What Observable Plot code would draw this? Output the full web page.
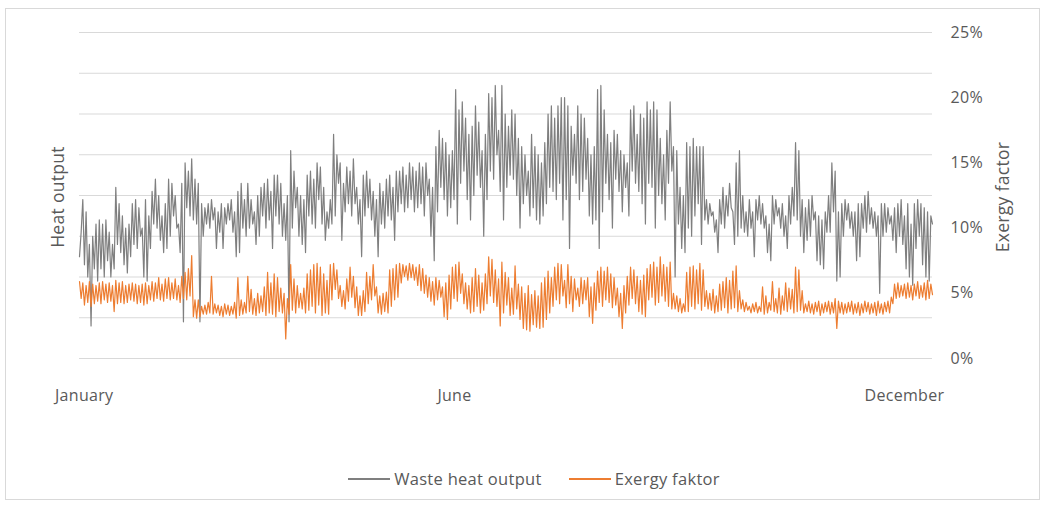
<!DOCTYPE html>
<html>
<head>
<meta charset="utf-8">
<script src="https://cdn.jsdelivr.net/npm/d3@7"></script>
<script src="https://cdn.jsdelivr.net/npm/@observablehq/plot@0.6"></script>
<style>
  html, body { margin: 0; padding: 0; background: #ffffff; }
  body { width: 1048px; height: 509px; position: relative; overflow: hidden;
         font-family: "Open Sans", Lato, sans-serif; color: #595959; }
  #frame { position: absolute; left: 5px; top: 8px; width: 1035px; height: 492px;
           border: 1px solid #d9d9d9; box-sizing: border-box; }
  #chart { position: absolute; left: 0; top: 0; }
  .ytitle { position: absolute; font-size: 17.5px; color: #595959; white-space: nowrap; letter-spacing: 0.3px;
            transform: translate(-50%, -50%) rotate(-90deg); }
  #legend { position: absolute; top: 467px; left: 10px; width: 1048px; display: flex;
            justify-content: center; gap: 27px; font-size: 16.5px; color: #595959; letter-spacing: 0.3px; }
  .item { display: flex; align-items: center; gap: 4px; }
  .swatch { width: 42px; height: 0; border-top: 2px solid; }
</style>
</head>
<body>
<div id="frame"></div>
<div id="chart"></div>
<div class="ytitle" style="left:57px; top:197px;">Heat output</div>
<div class="ytitle" style="left:1002px; top:197px;">Exergy factor</div>
<div id="legend"></div>
<script>
// Month labels on the time axis and their (approximate) day-of-year positions
const monthLabels = ["January", "June", "December"];
const monthDays = [2, 160, 352];

// Right axis ticks (exergy factor, %)
const exergyTicks = [0, 5, 10, 15, 20, 25];
// Left axis gridlines (heat output, unlabeled units)
const heatGrid = [0, 1, 2, 3, 4, 5, 6, 7, 8];
const heatMax = 8;

const seriesNames = ["Waste heat output", "Exergy faktor"];
const seriesColors = ["#7f7f7f", "#ed7d31"];

// Waste heat output (unlabeled units, gridline = 1), read as alternating daily extremes
const heatOutput = [
2.5,3.1, 3.9,2.3, 3.6,2.0, 2.8,0.8, 3.0,2.2, 3.3,1.9, 3.4,2.2, 3.3,2.0, 3.4,2.4, 3.1,2.0, 2.8,2.2, 4.2,2.8, 3.8,2.6, 3.5,2.3, 3.2,2.1, 3.3,2.5, 3.8,2.8, 3.9,2.7, 3.7,3.0, 3.2,2.0, 3.9,1.9, 3.5,2.7, 4.1,3.3, 4.4,3.2, 4.0,2.9, 3.5,2.6, 3.8,2.7, 4.4,3.0, 4.3,3.5, 4.0,3.2, 3.3,2.6, 4.3,0.9, 4.8,3.7, 4.6,3.5, 4.9,3.4, 4.4,3.3,
4.3,0.9, 3.8,3.0, 3.7,3.3, 3.8,3.2, 3.9,3.4, 3.7,2.7, 3.6,3.1, 3.8,2.7, 3.7,3.3, 3.8,3.4, 3.9,3.1, 3.6,2.5, 4.1,2.6, 4.3,3.2, 3.9,3.0, 4.3,3.2, 3.9,3.3, 3.6,2.8, 4.0,3.0, 4.2,3.5, 4.3,3.2, 4.4,3.4, 4.1,2.7, 4.5,3.5, 4.5,3.3, 4.3,3.0, 3.8,2.9, 4.0,0.9, 5.1,3.2, 4.6,3.7, 4.2,3.0, 4.0,2.8, 3.9,2.6, 4.5,3.5, 4.6,3.3, 4.4,3.2, 4.8,3.9,
4.7,3.3, 4.2,2.9, 3.6,3.2, 3.9,3.3, 5.5,3.5, 5.0,4.3, 4.8,2.9, 4.3,3.6, 4.7,3.8, 4.6,3.5, 4.9,3.8, 4.2,3.3, 3.9,2.5, 4.5,3.5, 4.6,3.7, 4.4,3.4, 4.1,3.0, 3.9,2.5, 4.3,3.3, 4.1,3.2, 4.4,3.5, 4.5,3.4, 4.2,2.9, 4.6,3.6, 4.6,3.8, 4.7,3.6, 4.5,3.7, 4.8,3.9, 4.7,3.6, 4.6,3.7, 4.8,3.8, 4.7,3.5, 4.8,4.0, 4.4,3.0, 4.2,2.4, 5.2,3.6, 5.6,4.2,
5.4,3.9, 5.3,3.5, 5.0,3.7, 5.1,3.9, 6.6,3.3, 6.1,4.3, 6.3,4.6, 5.9,3.9, 5.5,3.4, 5.7,4.0, 6.2,4.5, 5.8,4.2, 5.1,3.0, 5.5,3.9, 6.5,4.6, 6.4,4.4, 6.7,5.0, 5.6,4.1, 6.7,3.4, 6.0,4.2, 5.7,4.5, 6.1,4.4, 6.0,4.0, 5.4,3.2, 5.2,3.8, 5.0,4.0, 4.6,3.5, 5.5,3.7, 5.2,3.4, 5.0,3.3, 4.8,3.5, 5.3,3.8, 6.0,4.2, 6.2,4.1, 5.9,3.9, 6.2,4.3, 6.4,3.4,
6.4,3.9, 6.2,2.7, 5.7,4.5, 5.5,4.3, 6.2,3.9, 6.0,4.1, 5.9,4.4, 5.4,3.5, 5.0,3.3, 5.2,3.4, 6.6,2.7, 6.7,3.6, 6.1,4.3, 5.5,3.9, 5.3,3.2, 5.6,4.4, 5.5,4.1, 5.1,3.6, 5.0,4.2, 4.8,3.5, 6.1,4.6, 6.2,4.3, 5.5,4.1, 6.0,3.8, 5.9,3.3, 6.3,4.3, 6.1,4.2, 6.3,3.2, 6.1,4.0, 5.4,3.8, 5.0,3.4, 5.6,4.3, 6.3,4.6, 5.2,2.0, 5.1,3.3, 4.2,2.7, 4.0,2.6,
5.3,3.2, 5.2,3.0, 5.4,3.5, 5.2,3.8, 5.2,2.8, 5.2,3.4, 3.9,3.3, 3.8,3.5, 3.6,3.1, 3.4,2.6, 3.9,3.3, 4.2,3.2, 4.0,3.5, 4.3,3.7, 3.6,2.8, 4.8,3.0, 5.1,3.2, 4.0,3.1, 3.6,3.0, 3.9,3.2, 3.6,2.5, 3.9,3.4, 4.0,3.3, 3.8,3.2, 3.5,2.6, 3.3,2.4, 4.0,3.3, 3.9,3.5, 3.7,3.2, 3.8,3.0, 3.5,2.7, 4.0,3.3, 4.2,3.5, 5.3,3.4, 5.1,3.0, 3.9,2.6, 3.7,2.9,
3.9,3.0, 4.0,3.4, 3.6,2.4, 3.5,2.3, 3.4,2.2, 3.6,3.1, 4.0,3.1, 4.8,3.6, 4.6,1.9, 3.6,2.0, 3.8,3.0, 3.9,3.4, 3.8,3.2, 3.6,3.0, 3.6,2.4, 3.8,2.5, 3.8,3.2, 4.0,3.1, 4.1,3.3, 3.7,3.2, 3.6,3.0, 3.5,1.6, 3.8,3.0, 3.8,3.1, 3.7,3.3, 3.5,2.9, 3.7,2.6, 3.8,3.0, 3.9,2.8, 3.5,2.2, 3.8,2.0, 3.3,1.8, 3.8,2.7, 3.9,3.0, 3.8,2.3, 3.7,2.0, 3.6,1.9, 3.5,3.3
];

// Exergy factor (%), same sampling
const exergyFactor = [
5.9,4.6, 5.8,4.1, 5.6,4.3, 5.9,4.0, 5.7,4.2, 5.6,4.4, 5.8,4.2, 5.9,4.5, 5.7,4.3, 5.8,4.4, 5.6,3.6, 6.0,4.2, 5.8,4.3, 5.9,4.2, 5.6,4.3, 5.7,4.5, 5.8,4.4, 5.7,4.2, 5.6,4.3, 5.7,4.1, 5.8,4.2, 5.6,4.5, 5.9,4.4, 5.8,4.6, 6.2,4.5, 5.7,4.4, 6.1,4.6, 6.2,4.5, 5.8,4.6, 6.1,4.5, 5.6,4.3, 6.3,4.6, 6.6,4.5, 6.9,4.8, 7.9,3.2, 4.5,3.1,
4.5,3.2, 4.0,3.4, 4.1,3.4, 4.3,3.5, 6.3,3.4, 4.2,3.5, 4.1,3.3, 4.0,3.2, 4.2,3.4, 4.1,3.3, 4.0,3.4, 4.3,3.1, 6.2,3.3, 4.5,3.4, 4.3,3.5, 6.3,3.6, 5.3,3.4, 4.6,3.3, 5.0,3.5, 4.8,3.6, 5.5,3.3, 6.6,3.5, 5.8,3.4, 6.5,3.2, 6.2,3.6, 5.4,3.5, 5.0,1.5, 4.6,3.4, 7.2,3.7, 6.1,3.5, 5.6,3.9, 5.0,3.8, 5.4,3.5, 6.5,3.7, 6.8,4.0, 7.2,3.5, 7.3,4.1,
7.0,3.3, 6.5,3.5, 6.0,3.4, 7.2,4.5, 7.3,5.3, 6.8,4.6, 5.6,4.0, 5.2,3.8, 6.1,4.4, 7.0,4.7, 6.3,3.9, 5.5,3.3, 4.8,3.3, 5.2,3.6, 6.6,4.2, 6.3,4.5, 7.2,4.8, 5.5,3.5, 4.8,3.4, 5.0,3.6, 5.1,3.5, 6.8,4.0, 6.9,4.5, 7.2,4.7, 7.3,5.8, 7.2,6.3, 7.1,6.0, 7.3,6.2, 7.2,6.0, 7.0,5.6, 7.2,5.2, 6.9,5.0, 6.4,4.7, 6.2,4.4, 5.9,4.1, 6.2,4.5, 6.0,4.7,
5.5,3.2, 5.8,3.0, 6.4,3.8, 7.0,4.6, 7.2,4.4, 7.4,5.0, 6.5,4.2, 5.8,3.8, 5.6,3.5, 6.2,3.6, 6.9,4.0, 6.4,3.5, 5.8,3.7, 6.5,4.2, 7.8,4.8, 7.6,4.3, 6.8,4.0, 6.1,2.5, 7.4,3.5, 6.6,4.1, 6.2,3.3, 5.4,3.4, 7.1,3.8, 5.7,3.0, 5.5,2.3, 5.0,2.2, 5.6,2.1, 4.9,2.6, 5.2,2.4, 4.8,2.3, 5.8,2.4, 6.2,3.0, 6.7,3.5, 6.2,4.0, 7.0,4.5, 7.3,4.2, 7.2,4.8,
6.0,3.9, 7.2,4.2, 6.3,3.6, 6.1,4.5, 5.4,4.0, 6.2,4.2, 6.0,4.5, 6.2,3.2, 5.5,2.7, 5.8,3.7, 6.7,4.3, 7.0,4.0, 6.7,4.5, 7.0,4.3, 6.5,3.9, 6.2,4.1, 5.4,3.2, 5.0,2.3, 5.6,3.5, 6.3,4.1, 7.0,4.6, 6.8,4.2, 6.3,3.6, 6.0,3.4, 6.4,3.2, 6.9,4.5, 7.2,4.7, 7.4,4.1, 7.0,4.3, 7.8,4.8, 7.2,4.4, 7.0,4.0, 7.4,3.8, 5.0,3.8, 4.8,3.6, 4.6,3.5, 4.2,3.6,
6.6,3.6, 7.0,4.0, 7.1,3.8, 6.8,4.2, 7.3,3.7, 6.8,4.0, 5.2,3.8, 5.0,3.7, 5.3,3.5, 4.8,3.6, 5.7,3.7, 5.9,3.9, 6.2,3.5, 6.0,3.8, 6.7,3.9, 7.1,3.6, 5.2,3.8, 4.5,3.6, 4.3,3.7, 4.0,3.5, 4.2,3.6, 4.3,3.5, 4.0,3.6, 5.5,3.4, 4.8,3.5, 4.3,3.7, 5.9,3.6, 4.6,3.5, 5.4,3.4, 4.8,3.7, 5.8,3.6, 5.4,3.8, 5.3,3.5, 7.0,3.6, 6.8,3.7, 5.2,3.5, 4.2,3.6,
4.4,3.5, 4.2,3.4, 4.3,3.6, 4.4,3.3, 4.2,3.5, 4.3,3.6, 4.4,3.4, 4.3,3.5, 4.6,2.3, 4.4,3.5, 4.3,3.4, 4.2,3.5, 4.3,3.6, 4.4,3.4, 4.2,3.5, 4.3,3.3, 4.2,3.5, 4.4,3.6, 4.3,3.4, 4.2,3.5, 4.3,3.3, 4.4,3.5, 4.2,3.4, 4.3,3.6, 4.4,3.5, 4.7,4.2, 5.7,4.6, 5.8,4.7, 5.6,4.8, 5.7,4.6, 5.8,4.7, 5.6,4.5, 5.7,4.8, 5.9,4.6, 5.6,4.7, 5.8,4.5, 6.0,4.6, 5.7,4.9
];

const lastDay = 364;
const n = heatOutput.length;
const toDay = i => i * lastDay / (n - 1);
const scaleHeat = v => v * exergyTicks[exergyTicks.length - 1] / heatMax;

const heatData = heatOutput.map((v, i) => ({day: toDay(i), y: scaleHeat(v)}));
const exergyData = exergyFactor.map((v, i) => ({day: toDay(i), y: v}));

const chart = Plot.plot({
  width: 1048,
  height: 420,
  marginLeft: 79,
  marginRight: 116,
  marginTop: 32,
  marginBottom: 62,
  x: {domain: [0, lastDay]},
  y: {domain: [0, 25]},
  style: {fontFamily: '"Open Sans", Lato, sans-serif', fontSize: "16px", color: "#595959", background: "transparent", overflow: "visible", letterSpacing: "0.3px"},
  marks: [
    Plot.ruleY(heatGrid.map(scaleHeat), {stroke: "#d9d9d9", strokeWidth: 1, strokeOpacity: 1}),
    Plot.line(heatData, {x: "day", y: "y", stroke: seriesColors[0], strokeWidth: 1.2, curve: "linear"}),
    Plot.line(exergyData, {x: "day", y: "y", stroke: seriesColors[1], strokeWidth: 1.2, curve: "linear"}),
    Plot.axisY(exergyTicks, {anchor: "right", tickSize: 0, tickPadding: 18, label: null,
      tickFormat: d => d + "%", fill: "#595959"}),
    Plot.axisX(monthDays, {anchor: "bottom", tickSize: 0, tickPadding: 31, label: null,
      tickFormat: (d, i) => monthLabels[i], fill: "#595959"})
  ]
});
document.getElementById("chart").appendChild(chart);

const legend = document.getElementById("legend");
seriesNames.forEach((name, i) => {
  const item = document.createElement("div");
  item.className = "item";
  const sw = document.createElement("span");
  sw.className = "swatch";
  sw.style.borderTopColor = seriesColors[i];
  const label = document.createElement("span");
  label.textContent = name;
  item.appendChild(sw);
  item.appendChild(label);
  legend.appendChild(item);
});
</script>
</body>
</html>
